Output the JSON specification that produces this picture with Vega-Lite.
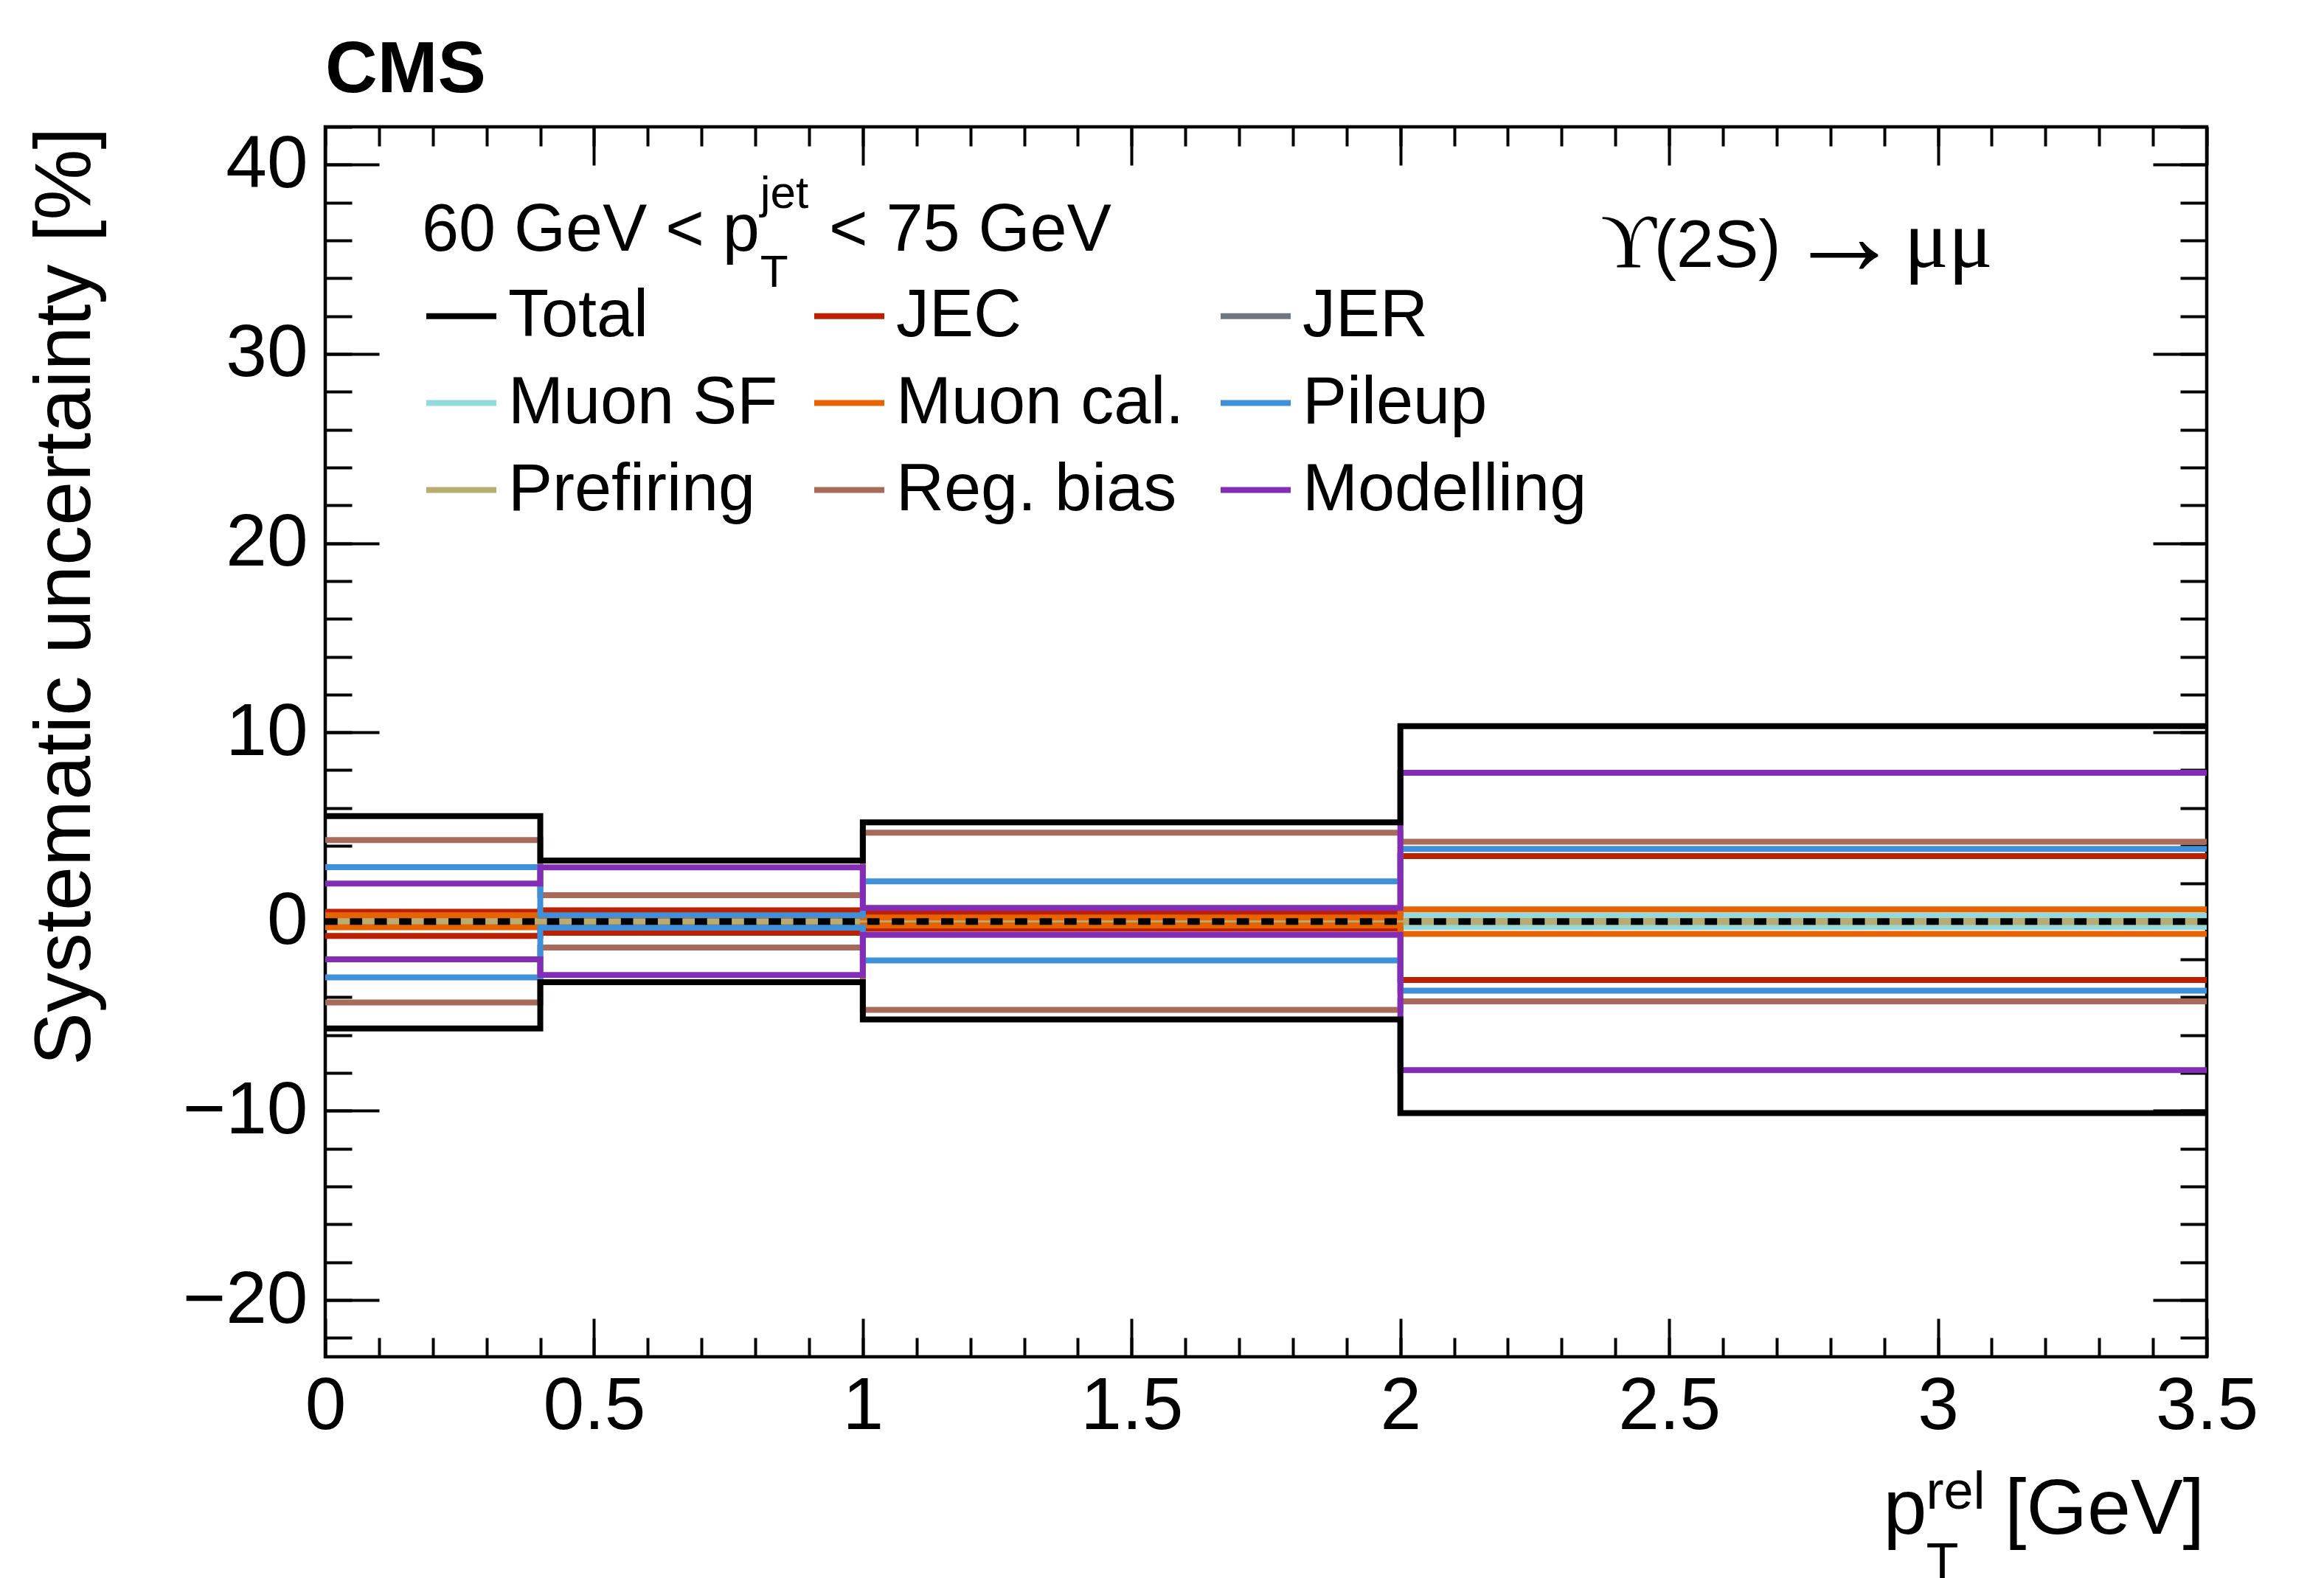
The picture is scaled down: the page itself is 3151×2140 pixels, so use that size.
{
  "$schema": "https://vega.github.io/schema/vega-lite/v6.json",
  "width": 2551,
  "height": 1668,
  "autosize": {"type": "none"},
  "padding": {"left": 441, "top": 172, "right": 159, "bottom": 300},
  "background": "white",
  "config": {
    "font": "Liberation Sans",
    "view": {"stroke": "black", "strokeWidth": 4.5},
    "axis": {
      "grid": false,
      "domain": false,
      "tickColor": "black",
      "tickWidth": 4,
      "labelColor": "black",
      "labelFont": "Liberation Sans",
      "labelLimit": 0,
      "titleFont": "Liberation Sans",
      "titleColor": "black",
      "titleFontWeight": "normal"
    },
    "text": {"font": "Liberation Sans", "color": "black", "align": "left", "baseline": "alphabetic"}
  },
  "title": {
    "text": "CMS",
    "anchor": "start",
    "frame": "group",
    "font": "Liberation Sans",
    "fontWeight": "bold",
    "fontSize": 98,
    "color": "black",
    "baseline": "alphabetic",
    "offset": -53
  },
  "resolve": {"axis": {"x": "independent", "y": "independent"}},
  "layer": [
    {
      "data": {
        "values": [
          {"source": "JER", "dir": "up", "x": 0, "value": 0.05},
          {"source": "JER", "dir": "up", "x": 0.4, "value": 0.05},
          {"source": "JER", "dir": "up", "x": 1, "value": 0.05},
          {"source": "JER", "dir": "up", "x": 2, "value": 0.05},
          {"source": "JER", "dir": "up", "x": 3.5, "value": 0.05},
          {"source": "JER", "dir": "down", "x": 0, "value": -0.05},
          {"source": "JER", "dir": "down", "x": 0.4, "value": -0.05},
          {"source": "JER", "dir": "down", "x": 1, "value": -0.05},
          {"source": "JER", "dir": "down", "x": 2, "value": -0.05},
          {"source": "JER", "dir": "down", "x": 3.5, "value": -0.05},
          {"source": "Muon SF", "dir": "up", "x": 0, "value": 0.1},
          {"source": "Muon SF", "dir": "up", "x": 0.4, "value": 0.1},
          {"source": "Muon SF", "dir": "up", "x": 1, "value": 0.3},
          {"source": "Muon SF", "dir": "up", "x": 2, "value": 0.32},
          {"source": "Muon SF", "dir": "up", "x": 3.5, "value": 0.32},
          {"source": "Muon SF", "dir": "down", "x": 0, "value": -0.1},
          {"source": "Muon SF", "dir": "down", "x": 0.4, "value": -0.1},
          {"source": "Muon SF", "dir": "down", "x": 1, "value": -0.3},
          {"source": "Muon SF", "dir": "down", "x": 2, "value": -0.28},
          {"source": "Muon SF", "dir": "down", "x": 3.5, "value": -0.28},
          {"source": "Prefiring", "dir": "up", "x": 0, "value": 0.03},
          {"source": "Prefiring", "dir": "up", "x": 0.4, "value": 0.03},
          {"source": "Prefiring", "dir": "up", "x": 1, "value": 0.03},
          {"source": "Prefiring", "dir": "up", "x": 2, "value": 0.03},
          {"source": "Prefiring", "dir": "up", "x": 3.5, "value": 0.03},
          {"source": "Prefiring", "dir": "down", "x": 0, "value": -0.03},
          {"source": "Prefiring", "dir": "down", "x": 0.4, "value": -0.03},
          {"source": "Prefiring", "dir": "down", "x": 1, "value": -0.03},
          {"source": "Prefiring", "dir": "down", "x": 2, "value": -0.03},
          {"source": "Prefiring", "dir": "down", "x": 3.5, "value": -0.03},
          {"source": "JEC", "dir": "up", "x": 0, "value": 0.52},
          {"source": "JEC", "dir": "up", "x": 0.4, "value": 0.6},
          {"source": "JEC", "dir": "up", "x": 1, "value": 0.44},
          {"source": "JEC", "dir": "up", "x": 2, "value": 3.46},
          {"source": "JEC", "dir": "up", "x": 3.5, "value": 3.46},
          {"source": "JEC", "dir": "down", "x": 0, "value": -0.76},
          {"source": "JEC", "dir": "down", "x": 0.4, "value": -0.59},
          {"source": "JEC", "dir": "down", "x": 1, "value": -0.38},
          {"source": "JEC", "dir": "down", "x": 2, "value": -3.09},
          {"source": "JEC", "dir": "down", "x": 3.5, "value": -3.09},
          {"source": "Muon cal.", "dir": "up", "x": 0, "value": 0.33},
          {"source": "Muon cal.", "dir": "up", "x": 0.4, "value": 0.3},
          {"source": "Muon cal.", "dir": "up", "x": 1, "value": 0.22},
          {"source": "Muon cal.", "dir": "up", "x": 2, "value": 0.64},
          {"source": "Muon cal.", "dir": "up", "x": 3.5, "value": 0.64},
          {"source": "Muon cal.", "dir": "down", "x": 0, "value": -0.3},
          {"source": "Muon cal.", "dir": "down", "x": 0.4, "value": -0.3},
          {"source": "Muon cal.", "dir": "down", "x": 1, "value": -0.2},
          {"source": "Muon cal.", "dir": "down", "x": 2, "value": -0.65},
          {"source": "Muon cal.", "dir": "down", "x": 3.5, "value": -0.65},
          {"source": "Reg. bias", "dir": "up", "x": 0, "value": 4.31},
          {"source": "Reg. bias", "dir": "up", "x": 0.4, "value": 1.39},
          {"source": "Reg. bias", "dir": "up", "x": 1, "value": 4.7},
          {"source": "Reg. bias", "dir": "up", "x": 2, "value": 4.22},
          {"source": "Reg. bias", "dir": "up", "x": 3.5, "value": 4.22},
          {"source": "Reg. bias", "dir": "down", "x": 0, "value": -4.28},
          {"source": "Reg. bias", "dir": "down", "x": 0.4, "value": -1.37},
          {"source": "Reg. bias", "dir": "down", "x": 1, "value": -4.67},
          {"source": "Reg. bias", "dir": "down", "x": 2, "value": -4.22},
          {"source": "Reg. bias", "dir": "down", "x": 3.5, "value": -4.22},
          {"source": "Pileup", "dir": "up", "x": 0, "value": 2.88},
          {"source": "Pileup", "dir": "up", "x": 0.4, "value": 0.33},
          {"source": "Pileup", "dir": "up", "x": 1, "value": 2.13},
          {"source": "Pileup", "dir": "up", "x": 2, "value": 3.84},
          {"source": "Pileup", "dir": "up", "x": 3.5, "value": 3.84},
          {"source": "Pileup", "dir": "down", "x": 0, "value": -2.95},
          {"source": "Pileup", "dir": "down", "x": 0.4, "value": -0.32},
          {"source": "Pileup", "dir": "down", "x": 1, "value": -2.05},
          {"source": "Pileup", "dir": "down", "x": 2, "value": -3.65},
          {"source": "Pileup", "dir": "down", "x": 3.5, "value": -3.65},
          {"source": "Modelling", "dir": "up", "x": 0, "value": 2.01},
          {"source": "Modelling", "dir": "up", "x": 0.4, "value": 2.87},
          {"source": "Modelling", "dir": "up", "x": 1, "value": 0.72},
          {"source": "Modelling", "dir": "up", "x": 2, "value": 7.86},
          {"source": "Modelling", "dir": "up", "x": 3.5, "value": 7.86},
          {"source": "Modelling", "dir": "down", "x": 0, "value": -2.0},
          {"source": "Modelling", "dir": "down", "x": 0.4, "value": -2.82},
          {"source": "Modelling", "dir": "down", "x": 1, "value": -0.7},
          {"source": "Modelling", "dir": "down", "x": 2, "value": -7.85},
          {"source": "Modelling", "dir": "down", "x": 3.5, "value": -7.85},
          {"source": "Total", "dir": "up", "x": 0, "value": 5.57},
          {"source": "Total", "dir": "up", "x": 0.4, "value": 3.23},
          {"source": "Total", "dir": "up", "x": 1, "value": 5.24},
          {"source": "Total", "dir": "up", "x": 2, "value": 10.33},
          {"source": "Total", "dir": "up", "x": 3.5, "value": 10.33},
          {"source": "Total", "dir": "down", "x": 0, "value": -5.65},
          {"source": "Total", "dir": "down", "x": 0.4, "value": -3.2},
          {"source": "Total", "dir": "down", "x": 1, "value": -5.17},
          {"source": "Total", "dir": "down", "x": 2, "value": -10.12},
          {"source": "Total", "dir": "down", "x": 3.5, "value": -10.12}
        ]
      },
      "mark": {"type": "line", "interpolate": "step-after", "strokeWidth": 8},
      "encoding": {
        "x": {
          "field": "x",
          "type": "quantitative",
          "scale": {"domain": [0, 3.5], "nice": false, "zero": false},
          "axis": {
            "orient": "bottom",
            "values": [0, 0.5, 1, 1.5, 2, 2.5, 3, 3.5],
            "format": "~g",
            "ticks": false,
            "labelFontSize": 100,
            "labelPadding": 18,
            "labelFlush": false,
            "title": null
          }
        },
        "y": {
          "field": "value",
          "type": "quantitative",
          "scale": {"domain": [-23, 42], "nice": false, "zero": false},
          "axis": {
            "orient": "left",
            "values": [-20, -10, 0, 10, 20, 30, 40],
            "format": "d",
            "ticks": false,
            "labelFontSize": 100,
            "labelPadding": 24,
            "title": "Systematic uncertainty [%]",
            "titleFontSize": 108,
            "titleAnchor": "end",
            "titleBaseline": "alphabetic",
            "titlePadding": 126
          }
        },
        "color": {
          "field": "source",
          "type": "nominal",
          "scale": {
            "domain": ["Total", "JEC", "JER", "Muon SF", "Muon cal.", "Pileup", "Prefiring", "Reg. bias", "Modelling"],
            "range": ["#000000", "#bd1f01", "#717581", "#92dadd", "#e76300", "#3f90da", "#b9ac70", "#a96b59", "#832db6"]
          },
          "legend": {
            "orient": "none",
            "direction": "horizontal",
            "legendX": 133,
            "legendY": 205,
            "columns": 3,
            "title": null,
            "padding": 0,
            "symbolType": "stroke",
            "symbolSize": 9025,
            "symbolStrokeWidth": 8,
            "labelFont": "Liberation Sans",
            "labelFontSize": 90,
            "labelColor": "black",
            "labelOffset": 12,
            "labelLimit": 0,
            "columnPadding": 33,
            "rowPadding": 21,
            "gridAlign": "each"
          }
        },
        "detail": {"field": "dir"}
      }
    },
    {
      "data": {"values": [{}]},
      "mark": {"type": "rule", "strokeWidth": 9, "strokeDash": [16.7, 16.7], "color": "black"},
      "encoding": {
        "x": {
          "datum": 0,
          "type": "quantitative",
          "axis": {
            "orient": "bottom",
            "values": [0, 0.1, 0.2, 0.3, 0.4, 0.5, 0.6, 0.7, 0.8, 0.9, 1, 1.1, 1.2, 1.3, 1.4, 1.5, 1.6, 1.7, 1.8, 1.9, 2, 2.1, 2.2, 2.3, 2.4, 2.5, 2.6, 2.7, 2.8, 2.9, 3, 3.1, 3.2, 3.3, 3.4, 3.5],
            "labels": false,
            "tickSize": -26,
            "title": null
          }
        },
        "x2": {"datum": 3.5},
        "y": {
          "datum": 0,
          "type": "quantitative",
          "axis": {
            "orient": "left",
            "values": [-22, -20, -18, -16, -14, -12, -10, -8, -6, -4, -2, 0, 2, 4, 6, 8, 10, 12, 14, 16, 18, 20, 22, 24, 26, 28, 30, 32, 34, 36, 38, 40, 42],
            "labels": false,
            "tickSize": -36,
            "title": null
          }
        }
      }
    },
    {
      "data": {"values": [{"t": "60 GeV < p"}]},
      "mark": {"type": "text", "fontSize": 90},
      "encoding": {
        "text": {"field": "t"},
        "x": {
          "datum": 0.1797,
          "type": "quantitative",
          "axis": {"orient": "bottom", "values": [0, 0.5, 1, 1.5, 2, 2.5, 3, 3.5], "labels": false, "tickSize": -52, "title": null}
        },
        "y": {
          "datum": 35.44,
          "type": "quantitative",
          "axis": {"orient": "left", "values": [-20, -10, 0, 10, 20, 30, 40], "labels": false, "tickSize": -73, "title": null}
        }
      }
    },
    {
      "data": {"values": [{"t": "jet"}]},
      "mark": {"type": "text", "fontSize": 62},
      "encoding": {
        "text": {"field": "t"},
        "x": {
          "datum": 0.809,
          "type": "quantitative",
          "axis": {
            "orient": "top",
            "values": [0, 0.1, 0.2, 0.3, 0.4, 0.5, 0.6, 0.7, 0.8, 0.9, 1, 1.1, 1.2, 1.3, 1.4, 1.5, 1.6, 1.7, 1.8, 1.9, 2, 2.1, 2.2, 2.3, 2.4, 2.5, 2.6, 2.7, 2.8, 2.9, 3, 3.1, 3.2, 3.3, 3.4, 3.5],
            "labels": false,
            "tickSize": -26,
            "title": null
          }
        },
        "y": {
          "datum": 37.7,
          "type": "quantitative",
          "axis": {
            "orient": "right",
            "values": [-22, -20, -18, -16, -14, -12, -10, -8, -6, -4, -2, 0, 2, 4, 6, 8, 10, 12, 14, 16, 18, 20, 22, 24, 26, 28, 30, 32, 34, 36, 38, 40, 42],
            "labels": false,
            "tickSize": -36,
            "title": null
          }
        }
      }
    },
    {
      "data": {"values": [{"t": "T"}]},
      "mark": {"type": "text", "fontSize": 62},
      "encoding": {
        "text": {"field": "t"},
        "x": {
          "datum": 0.809,
          "type": "quantitative",
          "axis": {"orient": "top", "values": [0, 0.5, 1, 1.5, 2, 2.5, 3, 3.5], "labels": false, "tickSize": -52, "title": null}
        },
        "y": {
          "datum": 33.55,
          "type": "quantitative",
          "axis": {"orient": "right", "values": [-20, -10, 0, 10, 20, 30, 40], "labels": false, "tickSize": -73, "title": null}
        }
      }
    },
    {
      "data": {"values": [{"t": "< 75 GeV"}]},
      "mark": {"type": "text", "fontSize": 90},
      "encoding": {
        "text": {"field": "t"},
        "x": {"datum": 0.937, "type": "quantitative", "axis": null},
        "y": {"datum": 35.44, "type": "quantitative", "axis": null}
      }
    },
    {
      "data": {"values": [{"t": "ϒ"}]},
      "mark": {"type": "text", "fontSize": 104, "font": "Liberation Serif"},
      "encoding": {
        "text": {"field": "t"},
        "x": {"datum": 2.373, "type": "quantitative", "axis": null},
        "y": {"datum": 34.59, "type": "quantitative", "axis": null}
      }
    },
    {
      "data": {"values": [{"t": "(2S)"}]},
      "mark": {"type": "text", "fontSize": 91},
      "encoding": {
        "text": {"field": "t"},
        "x": {"datum": 2.472, "type": "quantitative", "axis": null},
        "y": {"datum": 34.59, "type": "quantitative", "axis": null}
      }
    },
    {
      "data": {"values": [{"t": "→"}]},
      "mark": {"type": "text", "fontSize": 155},
      "encoding": {
        "text": {"field": "t"},
        "x": {"datum": 2.719, "type": "quantitative", "axis": null},
        "y": {"datum": 34.22, "type": "quantitative", "axis": null}
      }
    },
    {
      "data": {"values": [{"t": "μμ"}]},
      "mark": {"type": "text", "fontSize": 112, "font": "Liberation Serif"},
      "encoding": {
        "text": {"field": "t"},
        "x": {"datum": 2.937, "type": "quantitative", "axis": null},
        "y": {"datum": 34.59, "type": "quantitative", "axis": null}
      }
    },
    {
      "data": {"values": [{"t": "p"}]},
      "mark": {"type": "text", "fontSize": 106},
      "encoding": {
        "text": {"field": "t"},
        "x": {"datum": 2.8985, "type": "quantitative", "axis": null},
        "y": {"datum": -32.37, "type": "quantitative", "axis": null}
      }
    },
    {
      "data": {"values": [{"t": "rel"}]},
      "mark": {"type": "text", "fontSize": 72},
      "encoding": {
        "text": {"field": "t"},
        "x": {"datum": 2.978, "type": "quantitative", "axis": null},
        "y": {"datum": -31.03, "type": "quantitative", "axis": null}
      }
    },
    {
      "data": {"values": [{"t": "T"}]},
      "mark": {"type": "text", "fontSize": 72},
      "encoding": {
        "text": {"field": "t"},
        "x": {"datum": 2.978, "type": "quantitative", "axis": null},
        "y": {"datum": -34.8, "type": "quantitative", "axis": null}
      }
    },
    {
      "data": {"values": [{"t": "[GeV]"}]},
      "mark": {"type": "text", "fontSize": 106, "align": "right"},
      "encoding": {
        "text": {"field": "t"},
        "x": {"datum": 3.496, "type": "quantitative", "axis": null},
        "y": {"datum": -32.37, "type": "quantitative", "axis": null}
      }
    }
  ]
}
